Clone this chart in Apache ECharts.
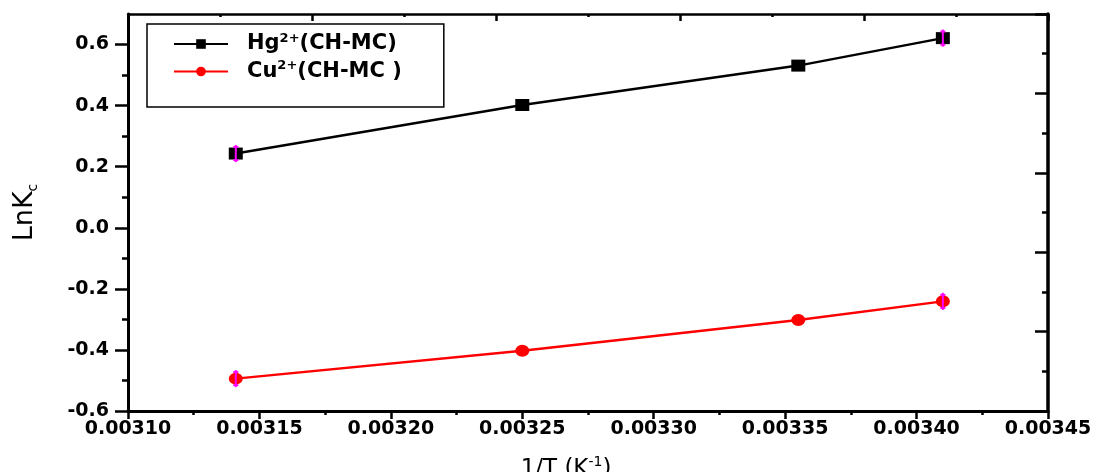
<!DOCTYPE html>
<html><head><meta charset="utf-8">
<script src="https://cdn.jsdelivr.net/npm/echarts@6/dist/echarts.min.js"></script>
<style>html,body{margin:0;padding:0;background:#fff}#c{width:1102px;height:472px}</style>
</head><body><div id="c"></div>
<script>
// ---- data ----
const hgX = [0.003141, 0.00325, 0.003355, 0.00341];
const hgY = [0.243, 0.402, 0.531, 0.621];
const cuX = [0.003141, 0.00325, 0.003355, 0.00341];
const cuY = [-0.494, -0.403, -0.302, -0.241];
const errIdx = [0, 3];          // points carrying error bars
const hgErr = [0.028, 0.028];
const cuErr = [0.028, 0.028];
const xTicks = [0.0031, 0.00315, 0.0032, 0.00325, 0.0033, 0.00335, 0.0034, 0.00345];
const xMinorTicks = [0.003125, 0.003175, 0.003225, 0.003275, 0.003325, 0.003375, 0.003425];
const yTicks = [-0.6, -0.4, -0.2, 0.0, 0.2, 0.4, 0.6];
const yMinorTicks = [-0.5, -0.3, -0.1, 0.1, 0.3, 0.5];
const legendNames = ['Hg', 'Cu'];
const legendLabels = {Hg: '{a|Hg}{sup|2+}{a|(CH-MC)}', Cu: '{a|Cu}{sup|2+}{a|(CH-MC )}'};

const FONT = 'DejaVu Sans';
const labelStyle = {fontFamily: FONT, fontWeight: 'bold', fontSize: 19, color: '#000'};

function pairs(xs, ys) { return xs.map((x, i) => [x, ys[i]]); }
function errData(xs, ys, e) { return errIdx.map((k, j) => [xs[k], ys[k] - e[j], ys[k] + e[j]]); }

function errRender(params, api) {
  const x = api.value(0), lo = api.value(1), hi = api.value(2);
  const a = api.coord([x, lo]), b = api.coord([x, hi]);
  const st = {stroke: '#ff00ff', lineWidth: 2};
  return {type: 'group', children: [
    {type: 'line', shape: {x1: a[0], y1: a[1], x2: b[0], y2: b[1]}, style: st},
    {type: 'line', shape: {x1: a[0] - 2.5, y1: a[1] - 2, x2: a[0] + 2.5, y2: a[1] - 2}, style: st},
    {type: 'line', shape: {x1: b[0] - 2.5, y1: b[1] + 2, x2: b[0] + 2.5, y2: b[1] + 2}, style: st}
  ]};
}

const chart = echarts.init(document.getElementById('c'));
chart.setOption({
  animation: false,
  backgroundColor: '#fff',
  grid: {left: 128, right: 54, top: 14, bottom: 61, outerBoundsMode: 'none'},
  legend: {
    data: legendNames,
    orient: 'vertical',
    left: 147, top: 24,
    padding: [8, 42, 25, 26],
    itemGap: 5,
    itemWidth: 54, itemHeight: 12,
    borderColor: '#000', borderWidth: 1.5,
    formatter: n => legendLabels[n],
    textStyle: {
      padding: [0, 0, 0, 14],
      rich: {
        a: {fontFamily: FONT, fontWeight: 'bold', fontSize: 21, lineHeight: 24, color: '#000'},
        sup: {fontFamily: FONT, fontWeight: 'bold', fontSize: 13, lineHeight: 13, verticalAlign: 'top', color: '#000'}
      }
    }
  },
  xAxis: [
    {type: 'value', position: 'bottom', min: 0.0031, max: 0.00345,
     axisLine: {onZero: false, lineStyle: {color: '#000', width: 3}},
     axisTick: {customValues: xTicks, length: 8, lineStyle: {color: '#000', width: 2.5}},
     axisLabel: Object.assign({customValues: xTicks, formatter: v => v.toFixed(5), margin: 9}, labelStyle),
     splitLine: {show: false},
     name: '{a|1/T (K}{sup|-1}{a|)}', nameLocation: 'middle', nameGap: 44,
     nameTextStyle: {padding: [0, 44, 0, 0], rich: {
       a: {fontFamily: FONT, fontSize: 23, lineHeight: 28, color: '#000'},
       sup: {fontFamily: FONT, fontSize: 14, lineHeight: 14, verticalAlign: 'top', color: '#000'}}}},
    {type: 'value', position: 'bottom', min: 0.0031, max: 0.00345,
     axisLine: {show: false, onZero: false},
     axisTick: {customValues: xMinorTicks, length: 4, lineStyle: {color: '#000', width: 2.5}},
     axisLabel: {show: false}, splitLine: {show: false}},
    {type: 'value', position: 'top', min: 0, max: 5, interval: 1,
     axisLine: {onZero: false, lineStyle: {color: '#000', width: 2.5}},
     axisTick: {inside: true, length: 7, lineStyle: {color: '#000', width: 2.5}},
     minorTick: {show: true, splitNumber: 2, length: 3, lineStyle: {color: '#000', width: 2.5}},
     axisLabel: {show: false}, splitLine: {show: false}}
  ],
  yAxis: [
    {type: 'value', position: 'left', min: -0.6, max: 0.7,
     axisLine: {onZero: false, lineStyle: {color: '#000', width: 3}},
     axisTick: {customValues: yTicks, length: 13, lineStyle: {color: '#000', width: 2.5}},
     axisLabel: Object.assign({customValues: yTicks, formatter: v => v.toFixed(1), margin: 19}, labelStyle),
     splitLine: {show: false},
     name: '{a|LnK}{sub|c}', nameLocation: 'middle', nameGap: 88,
     nameTextStyle: {rich: {
       a: {fontFamily: FONT, fontSize: 27, lineHeight: 30, color: '#000'},
       sub: {fontFamily: FONT, fontSize: 14, lineHeight: 14, verticalAlign: 'bottom', color: '#000'}}}},
    {type: 'value', position: 'left', min: -0.6, max: 0.7,
     axisLine: {show: false, onZero: false},
     axisTick: {customValues: yMinorTicks, length: 6, lineStyle: {color: '#000', width: 2.5}},
     axisLabel: {show: false}, splitLine: {show: false}},
    {type: 'value', position: 'right', min: 0, max: 5, interval: 1,
     axisLine: {onZero: false, lineStyle: {color: '#000', width: 3.5}},
     axisTick: {inside: true, length: 13, lineStyle: {color: '#000', width: 2.5}},
     minorTick: {show: true, splitNumber: 2, length: 6, lineStyle: {color: '#000', width: 2.5}},
     axisLabel: {show: false}, splitLine: {show: false}}
  ],
  series: [
    {name: 'Hg', type: 'line', xAxisIndex: 0, yAxisIndex: 0, data: pairs(hgX, hgY),
     symbol: 'rect', symbolSize: [14, 12], color: '#000',
     lineStyle: {color: '#000', width: 2.5}, itemStyle: {color: '#000'}},
    {name: 'Cu', type: 'line', xAxisIndex: 0, yAxisIndex: 0, data: pairs(cuX, cuY),
     symbol: 'circle', symbolSize: [14, 12], color: '#ff0000',
     lineStyle: {color: '#ff0000', width: 2.5}, itemStyle: {color: '#ff0000'}},
    {type: 'custom', xAxisIndex: 0, yAxisIndex: 0, renderItem: errRender, z: 5,
     encode: {x: 0, y: [1, 2]}, data: errData(hgX, hgY, hgErr)},
    {type: 'custom', xAxisIndex: 0, yAxisIndex: 0, renderItem: errRender, z: 5,
     encode: {x: 0, y: [1, 2]}, data: errData(cuX, cuY, cuErr)}
  ]
});
</script></body></html>
